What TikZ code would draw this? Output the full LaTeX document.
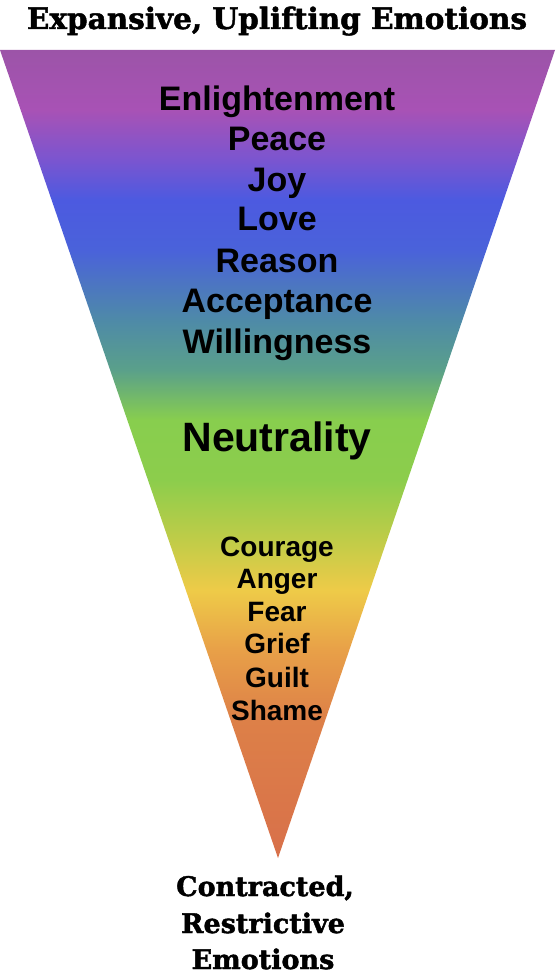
\documentclass[tikz,border=0pt]{standalone}
\usepackage{fontspec}
\setmainfont{Liberation Sans}
\newfontfamily\slabfont{DejaVu Serif}[BoldFeatures={FakeBold=1.6}]
\definecolor{cA}{HTML}{9C54A8}
\definecolor{cB}{HTML}{A852B5}
\definecolor{cC}{HTML}{7A55D0}
\definecolor{cD}{HTML}{4C5AE0}
\definecolor{cE}{HTML}{4A62DA}
\definecolor{cF}{HTML}{4E8AA8}
\definecolor{cG}{HTML}{5AA08A}
\definecolor{cH}{HTML}{88CE4E}
\definecolor{cI}{HTML}{8CCD4C}
\definecolor{cJ}{HTML}{C0CC48}
\definecolor{cK}{HTML}{EECB48}
\definecolor{cL}{HTML}{E8A048}
\definecolor{cM}{HTML}{DD8048}
\definecolor{cN}{HTML}{D8704A}
\pgfdeclareverticalshading{rainbow}{100bp}{color(0bp)=(cN); color(25bp)=(cN); color(33.54bp)=(cM); color(37.87bp)=(cL); color(41.58bp)=(cK); color(44.67bp)=(cJ); color(48.39bp)=(cI); color(52.10bp)=(cH); color(55.20bp)=(cG); color(58.29bp)=(cF); color(62.62bp)=(cE); color(65.72bp)=(cD); color(68.19bp)=(cC); color(71.29bp)=(cB); color(75bp)=(cA); color(100bp)=(cA)}
\tikzset{
  upper/.style={anchor=base, inner sep=0pt, font=\fontsize{34}{40}\selectfont\bfseries},
  mid/.style={anchor=base, inner sep=0pt, font=\fontsize{41}{48}\selectfont\bfseries},
  lower/.style={anchor=base, inner sep=0pt, font=\fontsize{28}{33}\selectfont\bfseries},
  slab/.style={anchor=base, inner sep=0pt, font=\slabfont\fontsize{29.5}{34}\selectfont\bfseries},
  slabb/.style={anchor=base, inner sep=0pt, font=\slabfont\fontsize{27}{32}\selectfont\bfseries},
}
\begin{document}
\begin{tikzpicture}[x=1pt,y=-1pt]
\useasboundingbox (0,0) rectangle (555,976);
\path[shading=rainbow] (0,50) -- (555,50) -- (278,858) -- cycle;
\node[slab] (top) at (277,29) {Expansive, Uplifting Emotions};
\node[upper] (enl) at (277,111) {Enlightenment};
\node[upper] (pea) at (277,151) {Peace};
\node[upper] (joy) at (277,192) {Joy};
\node[upper] (lov) at (277,231) {Love};
\node[upper] (rea) at (277,272) {Reason};
\node[upper] (acc) at (277,312) {Acceptance};
\node[upper] (wil) at (277,353) {Willingness};
\node[mid] (neu) at (277,451) {Neutrality};
\node[lower] (cou) at (277,556) {Courage};
\node[lower] (ang) at (277,588) {Anger};
\node[lower] (fea) at (277,621) {Fear};
\node[lower] (gri) at (277,653) {Grief};
\node[lower] (gui) at (277,687) {Guilt};
\node[lower] (sha) at (277,720) {Shame};
\node[slabb] (con) at (265,896) {Contracted,};
\node[slabb] (res) at (263,933) {Restrictive};
\node[slabb] (emo) at (263,969) {Emotions};
\end{tikzpicture}
\end{document}
